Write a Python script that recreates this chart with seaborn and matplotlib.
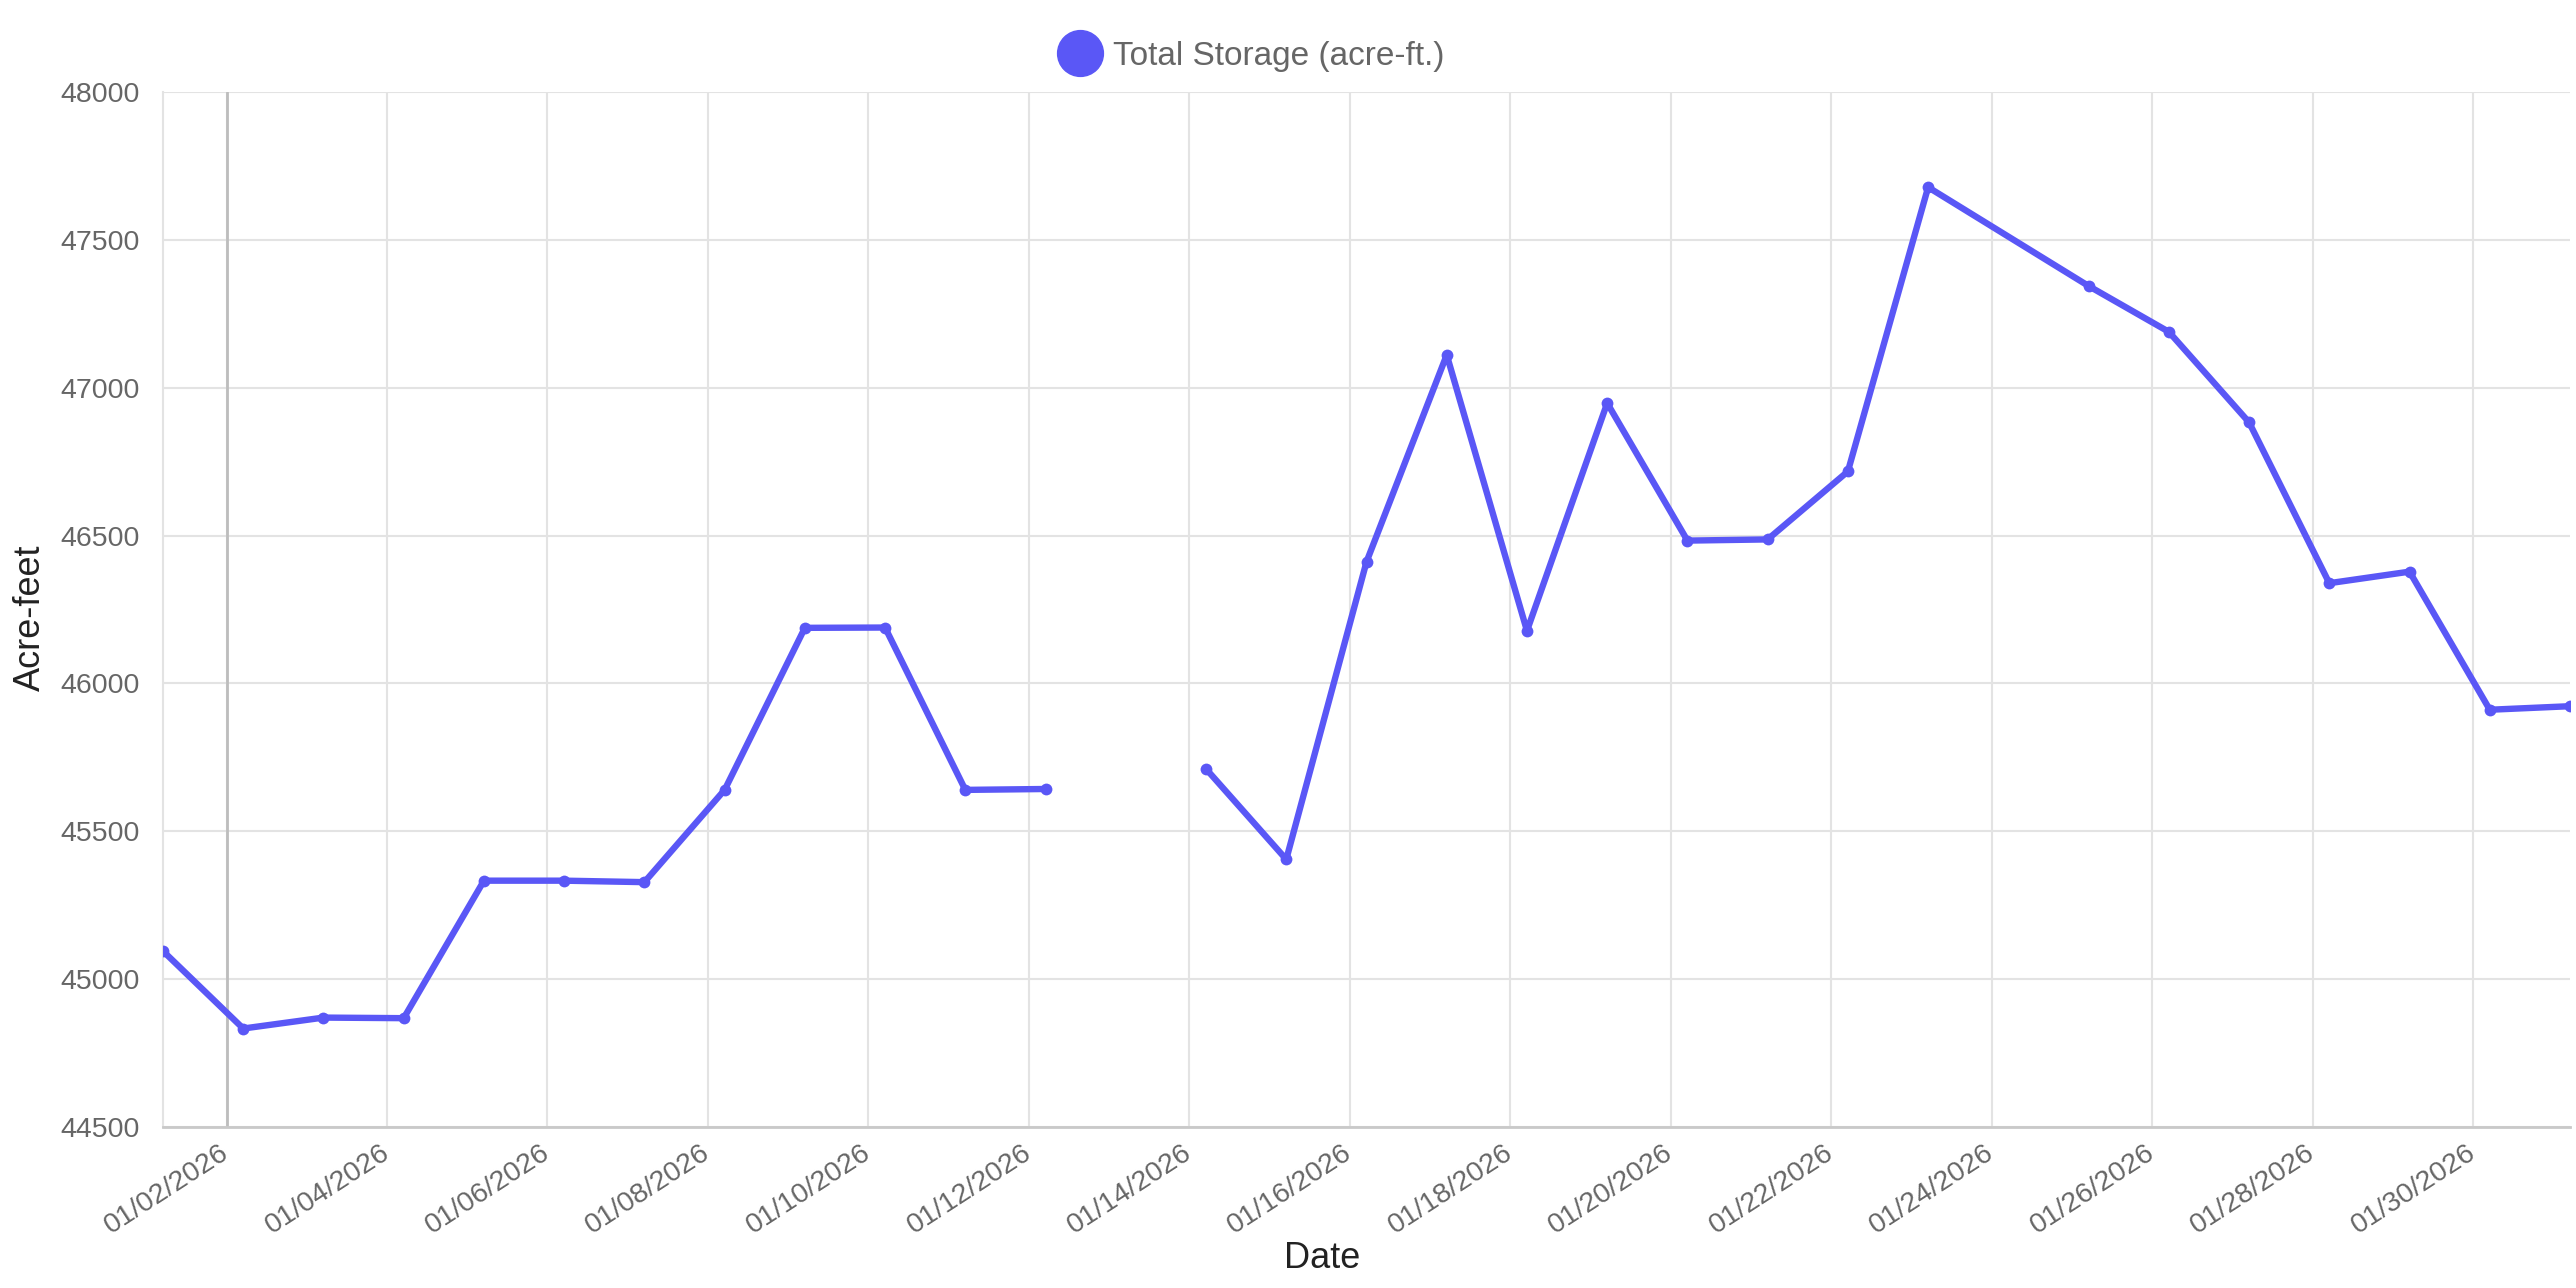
import numpy as np
import pandas as pd
import seaborn as sns
import matplotlib.pyplot as plt
from matplotlib.lines import Line2D

# ------------------------------------------------------------------ #
sns.set_style("white")
plt.rcParams["font.family"] = ["Liberation Sans", "DejaVu Sans"]
# ------------------------------------------------------------------ #

# daily readings (01/24 has no record, 01/13 is a missing value)
days = [1, 2, 3, 4, 5, 6, 7, 8, 9, 10, 11, 12, 13, 14, 15, 16, 17, 18, 19, 20,
        21, 22, 23, 25, 26, 27, 28, 29, 30, 31]
storage = [45095, 44833, 44870, 44868, 45333, 45333, 45328, 45640, 46188, 46189,
           45640, 45643, np.nan, 45711, 45405, 46411, 47111, 46178, 46948, 46483,
           46487, 46717, 47678, 47344, 47189, 46883, 46339, 46378, 45911, 45923]
reading_time = "05:00"

tick_dates = pd.date_range("2026-01-02", "2026-01-30", freq="2D")
y_ticks = list(range(44500, 48001, 500))

LINE = "#5A57F6"
GRID = "#e3e3e3"
TEXT = "#666666"

df = pd.DataFrame({
    "date": pd.to_datetime(["2026-01-%02d %s" % (d, reading_time) for d in days]),
    "storage": storage,
})
df["segment"] = df["storage"].isna().cumsum()

fig = plt.figure(figsize=(25.76, 12.88), dpi=100)
ax = fig.add_axes([163 / 2576, 1 - 1127 / 1288, 2407 / 2576, 1035 / 1288])
ax.set_axisbelow(True)

sns.lineplot(
    data=df.dropna(), x="date", y="storage", units="segment", estimator=None,
    color=LINE, lw=4.6, marker="o", markersize=8.5, markeredgewidth=0,
    ax=ax, legend=False, zorder=3,
)

ax.set_xlim(df["date"].iloc[0], df["date"].iloc[-1])
ax.set_ylim(y_ticks[0], y_ticks[-1])
ax.set_yticks(y_ticks)
ax.set_yticklabels([str(v) for v in y_ticks])
ax.set_xticks(tick_dates)
ax.set_xticklabels([d.strftime("%m/%d/%Y") for d in tick_dates])
for lab in ax.get_xticklabels():
    lab.set_rotation(33)
    lab.set_ha("right")
    lab.set_va("center")
    lab.set_rotation_mode("anchor")

ax.grid(True, color=GRID, lw=1.5)
ax.axvline(tick_dates[0], color="#bdbdbd", lw=2, zorder=1)
ax.tick_params(axis="both", length=14, width=1.5, color=GRID,
               labelcolor=TEXT, labelsize=20.5, pad=3)
ax.tick_params(axis="x", pad=3)
for side in ["top", "right"]:
    ax.spines[side].set_visible(False)
ax.spines["left"].set_color(GRID)
ax.spines["left"].set_linewidth(1.5)
ax.spines["bottom"].set_color("#c9c9c9")
ax.spines["bottom"].set_linewidth(2)
ax.set_xlabel("")
ax.set_ylabel("")

fig.text(1322 / 2576, 1 - 1259 / 1288, "Date", ha="center", va="center",
         fontsize=26, color="#222222")
fig.text(30 / 2576, 1 - 618 / 1288, "Acre-feet", ha="center", va="center",
         rotation=90, fontsize=26, color="#222222")

handle = Line2D([], [], marker="o", color=LINE, lw=0, markersize=33)
fig.legend([handle], ["Total Storage (acre-ft.)"], loc="center",
           bbox_to_anchor=(1254 / 2576, 1 - 56 / 1288), frameon=False,
           fontsize=24, labelcolor=TEXT, handlelength=1, handletextpad=0.5)

fig.savefig("out.png", dpi=100)
